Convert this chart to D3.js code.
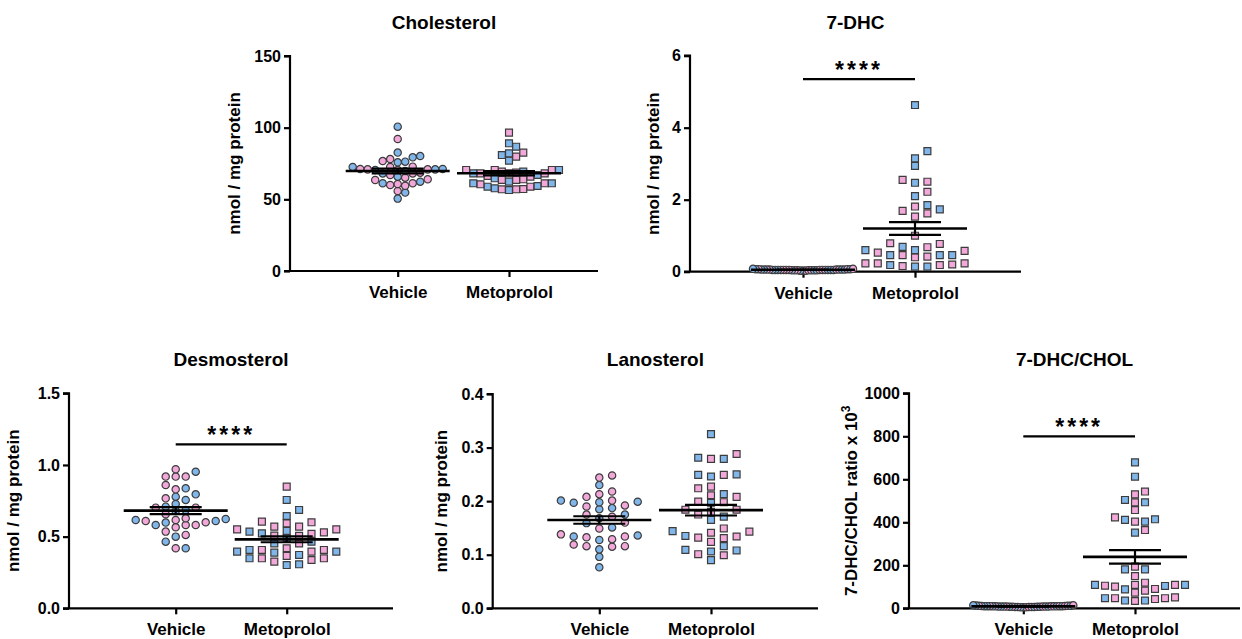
<!DOCTYPE html>
<html>
<head>
<meta charset="utf-8">
<script src="https://cdn.jsdelivr.net/npm/d3@7"></script>
<style>
  body { margin: 0; background: #fff; }
  svg { display: block; }
  text { font-family: "Liberation Sans", Arial, Helvetica, sans-serif; font-weight: bold; fill: #000; }
</style>
</head>
<body>
<svg id="chart" width="1242" height="639"></svg>
<script>
// categories
const groups = ["Vehicle", "Metoprolol"];

// Cholesterol (nmol / mg protein)
const cholVehPink = [72.6, 70.9, 70.9, 59.5, 78.1, 71.2, 64.0, 60.7, 68.1, 61.2, 55.8, 92.1, 65.1, 60.0, 76.7, 63.5, 72.8, 67.0, 70.5, 68.6];
const cholVehBlue = [65.8, 70.9, 72.6, 80.2, 50.5, 100.7, 82.6, 75.8, 70.5, 54.7, 79.3, 68.1, 62.3, 71.2, 61.2, 76.3, 69.8];
const cholMetPink = [70.5, 68.1, 57.2, 68.1, 68.6, 63.5, 58.8, 68.1, 60.5, 79.8, 70.5, 65.8, 96.5, 82.6, 63.5, 69.3, 64.0, 57.0, 61.2, 57.0, 70.5, 66.3];
const cholMetBlue = [64.7, 62.3, 61.2, 80.9, 86.7, 56.5, 89.1, 77.0, 69.3, 59.3, 82.1, 68.1, 57.7, 67.0, 58.8, 70.5, 61.2];

// 7-DHC
const dhcVehPink = [0.05, 0.04, 0.06, 0.05, 0.03, 0.07, 0.05, 0.04, 0.06, 0.05, 0.08, 0.04, 0.05, 0.06, 0.03, 0.05, 0.07, 0.04, 0.06, 0.05];
const dhcVehBlue = [0.06, 0.05, 0.04, 0.07, 0.05, 0.03, 0.06, 0.05, 0.04, 0.08, 0.05, 0.06, 0.04, 0.05, 0.07, 0.05, 0.06];
const dhcMetPink = [2.55, 2.50, 2.22, 1.62, 1.53, 1.69, 1.81, 1.00, 0.77, 0.53, 0.23, 0.46, 0.42, 0.185, 0.23, 0.68, 0.79, 0.58, 0.23, 0.157, 0.40, 0.20];
const dhcMetBlue = [4.63, 3.35, 3.15, 2.94, 2.47, 2.10, 1.85, 1.73, 0.185, 0.69, 0.46, 0.46, 0.14, 0.60, 0.60, 0.46, 0.14];

// Desmosterol
const desVehPink = [0.616, 0.702, 0.609, 0.565, 0.919, 0.860, 0.702, 0.581, 0.512, 0.919, 0.656, 0.830, 0.767, 0.581, 0.419, 0.970, 0.919, 0.535, 0.628, 0.600];
const desVehBlue = [0.616, 0.795, 0.837, 0.779, 0.728, 0.465, 0.419, 0.953, 0.686, 0.623, 0.500, 0.756, 0.598, 0.709, 0.581, 0.679, 0.609];
const desMetPink = [0.551, 0.395, 0.605, 0.570, 0.519, 0.365, 0.570, 0.507, 0.407, 0.849, 0.593, 0.419, 0.326, 0.551, 0.505, 0.337, 0.453, 0.349, 0.600, 0.349, 0.530, 0.407];
const desMetBlue = [0.465, 0.388, 0.407, 0.307, 0.349, 0.756, 0.540, 0.488, 0.372, 0.686, 0.453, 0.395, 0.644, 0.523, 0.302, 0.535, 0.395];

// Lanosterol
const lanVehPink = [0.171, 0.1325, 0.119, 0.213, 0.138, 0.115, 0.244, 0.201, 0.190, 0.175, 0.160, 0.129, 0.248, 0.208, 0.192, 0.116, 0.218, 0.149, 0.134, 0.116];
const lanVehBlue = [0.1275, 0.199, 0.187, 0.159, 0.197, 0.175, 0.151, 0.230, 0.110, 0.096, 0.0765, 0.134, 0.201, 0.185, 0.168, 0.198, 0.136];
const lanMetPink = [0.198, 0.175, 0.141, 0.124, 0.199, 0.184, 0.134, 0.224, 0.211, 0.149, 0.101, 0.279, 0.227, 0.184, 0.131, 0.099, 0.288, 0.249, 0.208, 0.180, 0.143, 0.132];
const lanMetBlue = [0.250, 0.213, 0.109, 0.281, 0.249, 0.106, 0.090, 0.325, 0.279, 0.246, 0.197, 0.171, 0.135, 0.144, 0.116, 0.108, 0.165];

// 7-DHC/CHOL ratio x 10^3
const ratVehPink = [8, 6, 10, 7, 5, 12, 9, 6, 11, 8, 14, 7, 9, 10, 5, 8, 12, 6, 9, 8];
const ratVehBlue = [10, 8, 6, 12, 7, 5, 11, 9, 6, 14, 8, 10, 7, 9, 13, 8, 10];
const ratMetPink = [530, 543, 493, 457, 423, 403, 364, 194, 150, 101, 109, 73, 90, 51, 43, 82, 47, 119, 47, 105, 34, 109];
const ratMetBlue = [679, 612, 493, 504, 411, 403, 414, 352, 181, 181, 36, 104, 88, 36, 109, 109, 47];

const PINK = "#f3a8da", BLUE = "#80b6ea", EDGE = "#3c3c3c";

const svg = d3.select("#chart");

// layout of each panel
const panels = [
  { title: "Cholesterol", x0: 290, x1: 598, yTop: 56, yBot: 271, max: 150, ticks: [0, 50, 100, 150], fmt: d3.format("d"),
    cats: [397.7, 509], veh: [cholVehPink, cholVehBlue], met: [cholMetPink, cholMetBlue], sig: null, labOff: 50, sV: 7.5, sM: 9.2, titleY: 29 },
  { title: "7-DHC", x0: 690, x1: 1021, yTop: 55.7, yBot: 271.7, max: 6, ticks: [0, 2, 4, 6], fmt: d3.format("d"),
    cats: [803, 915], veh: [dhcVehPink, dhcVehBlue], met: [dhcMetPink, dhcMetBlue], sig: 5.35, labOff: 31, sV: 7.5, sM: 12.4, titleY: 29 },
  { title: "Desmosterol", x0: 69, x1: 393, yTop: 393.3, yBot: 608.3, max: 1.5, ticks: [0, 0.5, 1, 1.5], fmt: d3.format(".1f"),
    cats: [175.7, 286.7], veh: [desVehPink, desVehBlue], met: [desMetPink, desMetBlue], sig: 1.144, labOff: 50, sV: 11, sM: 12.4, titleY: 366 },
  { title: "Lanosterol", x0: 492.7, x1: 818, yTop: 394, yBot: 608.3, max: 0.4, ticks: [0, 0.1, 0.2, 0.3, 0.4], fmt: d3.format(".1f"),
    cats: [599.3, 711], veh: [lanVehPink, lanVehBlue], met: [lanMetPink, lanMetBlue], sig: null, labOff: 46, sV: 12.8, sM: 12.8, titleY: 366 },
  { title: "7-DHC/CHOL", x0: 909, x1: 1240, yTop: 393.3, yBot: 608.3, max: 1000, ticks: [0, 200, 400, 600, 800, 1000], fmt: d3.format("d"),
    cats: [1023.3, 1135], veh: [ratVehPink, ratVehBlue], met: [ratMetPink, ratMetBlue], sig: 800, labOff: 52, sV: 7.5, sM: 11.1, titleY: 366, ratio: true }
];

// column beeswarm: each point goes to the closest free column
function swarm(vals, y, cx, s, m, halfW) {
  const pts = vals.map(d => ({ v: d.v, c: d.c, py: y(d.v) })).sort((a, b) => a.v - b.v);
  const cols = new Map();
  let maxK = 0;
  pts.forEach(p => {
    for (let i = 0; ; i++) {
      const k = i === 0 ? 0 : (i % 2 ? (i + 1) / 2 : -i / 2);
      const col = cols.get(k) || [];
      if (col.every(q => Math.abs(q - p.py) >= m)) {
        col.push(p.py); cols.set(k, col); p.k = k;
        maxK = Math.max(maxK, Math.abs(k));
        break;
      }
    }
  });
  const f = maxK * s > halfW ? halfW / (maxK * s) : 1;
  pts.forEach(p => p.px = cx + p.k * s * f);
  return pts;
}

panels.forEach(P => {
  const g = svg.append("g");
  const y = d3.scaleLinear().domain([0, P.max]).range([P.yBot, P.yTop]);
  const x = d3.scalePoint().domain(groups).range(P.cats);

  // title
  g.append("text")
    .attr("x", (P.x0 + P.x1) / 2).attr("y", P.titleY)
    .attr("text-anchor", "middle").style("font-size", "19px")
    .text(P.title);

  // y axis
  const yAxis = g.append("g").attr("transform", `translate(${P.x0},0)`)
    .call(d3.axisLeft(y).tickValues(P.ticks).tickFormat(P.fmt).tickSize(6).tickPadding(3));
  yAxis.select(".domain").attr("stroke-width", 2.2).attr("d", `M-6,${P.yTop}H0V${P.yBot}`);
  yAxis.selectAll(".tick line").attr("stroke-width", 2.2);
  yAxis.selectAll("text").style("font-size", "16px").style("font-family", null);

  // x axis
  const xAxis = g.append("g").attr("transform", `translate(0,${P.yBot})`)
    .call(d3.axisBottom(x).tickSize(6).tickPadding(9));
  xAxis.select(".domain").attr("stroke-width", 2.2).attr("d", `M${P.x0 - 6},0H${P.x1}`);
  xAxis.selectAll(".tick line").attr("stroke-width", 2.2);
  xAxis.selectAll("text").style("font-size", "17px").style("font-family", null);

  // y label
  const lab = g.append("text")
    .attr("transform", `translate(${P.x0 - P.labOff},${(P.yTop + P.yBot) / 2}) rotate(-90)`)
    .attr("text-anchor", "middle").style("font-size", "17px");
  if (P.ratio) {
    lab.append("tspan").text("7-DHC/CHOL ratio x 10");
    lab.append("tspan").attr("dy", "-0.55em").style("font-size", "12px").text("3");
  } else {
    lab.text("nmol / mg protein");
  }

  // points + mean/SEM per group
  [["Vehicle", P.veh, "circle", P.sV, 6.6], ["Metoprolol", P.met, "square", P.sM, 7.2]].forEach(([name, sets, shape, s, m]) => {
    const vals = sets[0].map(v => ({ v, c: PINK })).concat(sets[1].map(v => ({ v, c: BLUE })));
    const pts = swarm(vals, y, x(name), s, m, 50);
    const sym = d3.symbol().type(shape === "circle" ? d3.symbolCircle : d3.symbolSquare)
      .size(shape === "circle" ? 42 : 48);
    g.append("g").selectAll("path").data(pts).join("path")
      .attr("d", sym)
      .attr("transform", d => `translate(${d.px},${d.py})`)
      .attr("fill", d => d.c)
      .attr("stroke", EDGE).attr("stroke-width", 1.2);

    const all = vals.map(d => d.v);
    const mean = d3.mean(all);
    const sem = d3.deviation(all) / Math.sqrt(all.length);
    const cx = x(name);
    const lines = g.append("g").attr("stroke", "#000");
    lines.append("line").attr("x1", cx - 52).attr("x2", cx + 52)
      .attr("y1", y(mean)).attr("y2", y(mean)).attr("stroke-width", 2.6);
    [mean - sem, mean + sem].forEach(v => {
      lines.append("line").attr("x1", cx - 26).attr("x2", cx + 26)
        .attr("y1", y(v)).attr("y2", y(v)).attr("stroke-width", 2.2);
    });
    lines.append("line").attr("x1", cx).attr("x2", cx)
      .attr("y1", y(mean - sem)).attr("y2", y(mean + sem)).attr("stroke-width", 2.2);
  });

  // significance bar
  if (P.sig != null) {
    const sy = y(P.sig);
    g.append("line").attr("x1", x("Vehicle")).attr("x2", x("Metoprolol"))
      .attr("y1", sy).attr("y2", sy).attr("stroke", "#000").attr("stroke-width", 2.2);
    g.append("text")
      .attr("x", (x("Vehicle") + x("Metoprolol")) / 2).attr("y", sy - 1)
      .attr("text-anchor", "middle").style("font-size", "23px").style("letter-spacing", "3px")
      .text("****");
  }
});
</script>
</body>
</html>
